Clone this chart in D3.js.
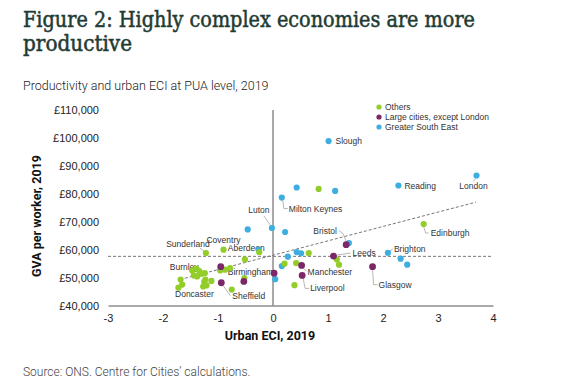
<!DOCTYPE html>
<html><head><meta charset="utf-8">
<script src="https://cdn.jsdelivr.net/npm/d3@7/dist/d3.min.js"></script>
<style>body{margin:0;background:#fff}svg{display:block}</style>
</head><body>
<script>
// ---------- DATA ----------
const xTicks = [-3, -2, -1, 0, 1, 2, 3, 4];
const yTicks = [40000, 50000, 60000, 70000, 80000, 90000, 100000, 110000];
const seriesNames = ["Others", "Large cities, except London", "Greater South East"];

const others = [
  {eci:-1.68, gva:49300}, {eci:-1.65, gva:47500}, {eci:-1.72, gva:46400, name:"Doncaster"},
  {eci:-1.47, gva:52560, name:"Burnley"}, {eci:-1.39, gva:53170}, {eci:-1.34, gva:52310},
  {eci:-1.24, gva:51590}, {eci:-1.44, gva:50770}, {eci:-1.38, gva:50410}, {eci:-1.30, gva:51350},
  {eci:-1.25, gva:48500}, {eci:-1.21, gva:47200}, {eci:-1.12, gva:48800}, {eci:-1.27, gva:46800},
  {eci:-1.23, gva:49300},
  {eci:-1.22, gva:58770, name:"Sunderland"}, {eci:-0.90, gva:59990, name:"Coventry"},
  {eci:-0.25, gva:59100, name:"Aberdeen"}, {eci:-0.51, gva:56510},
  {eci:-0.96, gva:52560}, {eci:-0.87, gva:52810}, {eci:-0.78, gva:53390},
  {eci:-0.75, gva:45700}, {eci:-0.52, gva:49850},
  {eci:0.21, gva:54960}, {eci:0.42, gva:55190}, {eci:0.39, gva:47290}, {eci:0.65, gva:58770},
  {eci:0.83, gva:81750}, {eci:1.16, gva:56510}, {eci:1.20, gva:54600},
  {eci:2.74, gva:69180, name:"Edinburgh"}
];
const largeCities = [
  {eci:-0.95, gva:53890, name:"Birmingham"}, {eci:-0.94, gva:48150, name:"Sheffield"},
  {eci:-0.53, gva:48610}, {eci:0.02, gva:51590},
  {eci:0.52, gva:54360, name:"Manchester"}, {eci:0.53, gva:50770, name:"Liverpool"},
  {eci:1.10, gva:57700, name:"Leeds"}, {eci:1.33, gva:61790, name:"Bristol"},
  {eci:1.81, gva:53890, name:"Glasgow"}
];
const greaterSouthEast = [
  {eci:1.01, gva:98870, name:"Slough"}, {eci:0.43, gva:82250}, {eci:1.13, gva:81030},
  {eci:0.16, gva:78660, name:"Milton Keynes"}, {eci:2.28, gva:82960, name:"Reading"},
  {eci:3.70, gva:86550, name:"London"}, {eci:-0.02, gva:67750, name:"Luton"},
  {eci:-0.46, gva:67250}, {eci:0.22, gva:66310}, {eci:-0.26, gva:60000},
  {eci:0.43, gva:59130}, {eci:0.51, gva:58660}, {eci:0.27, gva:57480},
  {eci:0.16, gva:54100}, {eci:0.04, gva:49440}, {eci:1.38, gva:62360},
  {eci:2.09, gva:58850, name:"Brighton"}, {eci:2.32, gva:56760}, {eci:2.44, gva:54600}
];
const meanGVA = 57600;
const trendLine = [{eci:-1.69, gva:49300}, {eci:3.69, gva:77000}];

// ---------- LAYOUT / STYLE ----------
const W = 583, H = 391;
const colors = {"Others":"#93cd2a", "Large cities, except London":"#7b2769", "Greater South East":"#3eaee0"};
const labelLayout = {
  "Slough":{dx:7,dy:3,a:"start"},
  "Reading":{dx:6,dy:3,a:"start"},
  "London":{dx:-3,dy:14,a:"middle",leader:[[-1,3],[-3,6]]},
  "Milton Keynes":{dx:7,dy:14,a:"start",leader:[[1,3],[2,11],[6,11]]},
  "Luton":{dx:-13,dy:-15,a:"middle",leader:[[-1,-2],[-8,-12]]},
  "Edinburgh":{dx:7,dy:12,a:"start",leader:[[0,3],[2,9],[5,9]]},
  "Bristol":{dx:-21,dy:-11,a:"middle",leader:[[0,-3],[-3,-11],[-7,-14]]},
  "Leeds":{dx:19,dy:0,a:"start",leader:[[3,-1],[17,-3]]},
  "Brighton":{dx:6,dy:-1,a:"start",leader:[[2,-2],[5,-4]]},
  "Glasgow":{dx:6,dy:21,a:"start",leader:[[0,3],[1,18],[5,18]]},
  "Manchester":{dx:6,dy:10,a:"start",leader:[[2,3],[5,6]]},
  "Liverpool":{dx:8,dy:16,a:"start",leader:[[1,3],[3,13],[7,13]]},
  "Sunderland":{dx:-18,dy:-6,a:"middle",leader:[[-2,-2],[-6,-5]]},
  "Coventry":{dx:0,dy:-7,a:"middle"},
  "Aberdeen":{dx:-13,dy:-1,a:"middle"},
  "Birmingham":{dx:7,dy:8,a:"start"},
  "Sheffield":{dx:11,dy:16,a:"start",leader:[[2,3],[9,13]]},
  "Doncaster":{dx:16,dy:9,a:"middle"},
  "Burnley":{dx:-8,dy:0,a:"middle"}
};

const svg = d3.select("body").append("svg").attr("width", W).attr("height", H);
const x = d3.scaleLinear().domain([-3, 4]).range([108, 493]);
const y = d3.scaleLinear().domain([40000, 110000]).range([305.5, 110]);

// Titles
const titleFont = "'DejaVu Serif Condensed','DejaVu Serif',serif";
svg.append("text").attr("x", 23).attr("y", 27)
  .attr("font-family", titleFont).attr("font-weight", "normal")
  .attr("font-size", 23).attr("fill", "#1f3b33").attr("stroke", "#1f3b33").attr("stroke-width", 0.5)
  .attr("textLength", 452).attr("lengthAdjust", "spacingAndGlyphs")
  .text("Figure 2: Highly complex economies are more");
svg.append("text").attr("x", 23).attr("y", 51)
  .attr("font-family", titleFont).attr("font-weight", "normal")
  .attr("font-size", 23).attr("fill", "#1f3b33").attr("stroke", "#1f3b33").attr("stroke-width", 0.5)
  .attr("textLength", 109).attr("lengthAdjust", "spacingAndGlyphs")
  .text("productive");
svg.append("text").attr("x", 23).attr("y", 89.5)
  .attr("font-family", "Roboto, sans-serif").attr("font-weight", 300)
  .attr("font-size", 12.5).attr("fill", "#222").text("Productivity and urban ECI at PUA level, 2019");
svg.append("text").attr("x", 23).attr("y", 375.5)
  .attr("font-family", "Roboto, sans-serif").attr("font-weight", 300)
  .attr("font-size", 12).attr("fill", "#444").text("Source: ONS. Centre for Cities\u2019 calculations.");

// Axes
const xAxis = d3.axisBottom(x).tickValues(xTicks).tickSize(0).tickPadding(9).tickFormat(d3.format("d"));
const gx = svg.append("g").attr("transform", `translate(0,${y(40000)})`).call(xAxis);
gx.select(".domain").attr("stroke", "#555");
gx.selectAll("text").attr("font-family", "'Liberation Sans', Arial, sans-serif").attr("font-size", 11).attr("fill", "#222")
  .text(d => d < 0 ? "-" + Math.abs(d) : d);

const yAxis = d3.axisLeft(y).tickValues(yTicks).tickSize(0).tickPadding(0).tickFormat(d => "£" + d3.format(",")(d));
const gy = svg.append("g").attr("transform", "translate(99,0)").call(yAxis);
gy.select(".domain").remove();
gy.selectAll("text").attr("font-family", "'Liberation Sans', Arial, sans-serif").attr("font-size", 11).attr("fill", "#222");

// x = 0 line
svg.append("line").attr("x1", x(0)).attr("x2", x(0)).attr("y1", y(110000)).attr("y2", y(40000))
  .attr("stroke", "#555").attr("stroke-width", 1);

// axis titles
svg.append("text").attr("x", 270).attr("y", 340).attr("text-anchor", "middle")
  .attr("font-family", "Roboto, sans-serif").attr("font-weight", "bold").attr("font-size", 12.5).attr("fill", "#111")
  .text("Urban ECI, 2019");
svg.append("text").attr("transform", "translate(41,216) rotate(-90)").attr("text-anchor", "middle")
  .attr("font-family", "Roboto, sans-serif").attr("font-weight", "bold").attr("font-size", 12.5).attr("fill", "#111")
  .text("GVA per worker, 2019");

// mean and trend lines
svg.append("line").attr("x1", x(-3)).attr("x2", x(4)).attr("y1", y(meanGVA)).attr("y2", y(meanGVA))
  .attr("stroke", "#777").attr("stroke-dasharray", "3,2").attr("stroke-width", 1);
svg.append("path").datum(trendLine)
  .attr("d", d3.line().x(d => x(d.eci)).y(d => y(d.gva)))
  .attr("stroke", "#777").attr("stroke-dasharray", "3,2").attr("stroke-width", 1).attr("fill", "none");

// labels & leaders
const allPts = [].concat(others, largeCities, greaterSouthEast).filter(d => d.name);
const lab = svg.append("g");
allPts.forEach(d => {
  const L = labelLayout[d.name];
  const px = x(d.eci), py = y(d.gva);
  if (L.leader) {
    lab.append("path").attr("d", d3.line()(L.leader.map(p => [px + p[0], py + p[1]])))
      .attr("fill", "none").attr("stroke", "#999").attr("stroke-width", 0.7);
  }
  lab.append("text").attr("x", px + L.dx).attr("y", py + L.dy).attr("text-anchor", L.a)
    .attr("font-family", "'Liberation Sans', Arial, sans-serif").attr("font-size", 8.5).attr("fill", "#333")
    .text(d.name);
});

// points (blue, green, purple order)
const seriesData = {"Others": others, "Large cities, except London": largeCities, "Greater South East": greaterSouthEast};
["Greater South East", "Others", "Large cities, except London"].forEach(s => {
  svg.append("g").selectAll("circle").data(seriesData[s]).join("circle")
    .attr("cx", d => x(d.eci)).attr("cy", d => y(d.gva))
    .attr("r", s === "Large cities, except London" ? 3.4 : 3.1)
    .attr("fill", colors[s]);
});

// legend
const lg = svg.append("g").attr("transform", "translate(379,107)");
seriesNames.forEach((s, i) => {
  lg.append("circle").attr("cx", 0).attr("cy", i * 10).attr("r", 2.6).attr("fill", colors[s]);
  lg.append("text").attr("x", 6).attr("y", i * 10 + 3).attr("font-family", "'Liberation Sans', Arial, sans-serif")
    .attr("font-size", 8.5).attr("fill", "#333").text(s);
});
</script>
</body></html>
